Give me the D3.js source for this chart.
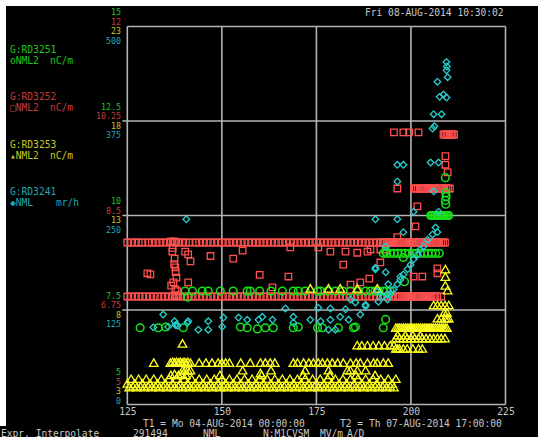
<!DOCTYPE html>
<html>
<head>
<meta charset="utf-8">
<script src="https://cdn.jsdelivr.net/npm/d3@7"></script>
<style>
  body { margin: 0; background: #fff; }
  svg text { font-family: "DejaVu Sans Mono", monospace; font-size: 9.6px; }
  svg text.tk { font-size: 8.3px; }
</style>
</head>
<body>
<script>
// x axis (sample index)
var xTicks = [125, 150, 175, 200, 225];

// left axis labels, one scale per signal (bottom -> top)
var greenTicks = [5, 7.5, 10, 12.5, 15];
var redTicks = [5, 6.75, 8.5, 10.25, 12];
var yellowTicks = [3, 8, 13, 18, 23];
var cyanTicks = [0, 125, 250, 375, 500];

// G:RD3252  [x, nC/m]
var redPts = [
  [125,8],[126,8],[127,8],[128,8],[129,8],[130.5,8],[131.5,8],[132.5,8],[133.5,8],[134.5,8],[135.5,8],[136.5,8.02],[137,8],[137.5,8.02],[138,8],[138.5,8],[139.5,8],[140.5,8],[141.5,8],[143,8],[144,8],[145,8],[146,8],[147,8],[148,8],[149,8],[150,8],[151,8],[152,8],[153,8],[154,8],[155,8],[156,8],[157,8],[158,8],[159,8],[160,8],[161,8],[162,8],[163,8],[164,8],[165,8],[166,8],[167,8],[168,8],[169,8],[170,8],[171,8],[172,8],[173,8],[174,8],[175,8],[176,8],[177,8],[178,8],[179,8],[180,8],[181,8],[182,8],[183,8],[184,8],[185,8],[186,8],[187,8],[188,8],[189,8],[190,8],[191,8],[192,8],[192.5,8],[193,8],[193.5,8],[194,8],[194.5,8],[195,8],[195.5,8],[196,8],[196.5,8],[197,8],[197.5,8],[198,8],[198.5,8],[199,8],[199.5,8],[200,8],[200.5,8],[201,8],[201.5,8],[202,8],[202.5,8],[203,8],[203.5,8],[204,8],[204.5,8],[205,8],[205.5,8],[206,8],[206.5,8],[207,8],[207.5,8],[208,8],[208.5,8],[209,8],
  [125,7],[126,7],[127,7],[128,7],[129,7],[130,7],[131,7],[132,7],[133,7],[134,7],[135,7],[136,7],[137,7],[137.5,7.02],[138,7],[138.5,7.02],[139,7],[140,7],[141,7],[142,7],[143,7],[144,7],[145,7],[146,7],[147,7],[148,7],[149,7],[150,7],[151,7],[152,7],[153,7],[154,7],[155,7],[156,7],[157,7],[158,7],[159,7],[160,7],[161,7],[162,7],[163,7],[164,7],[165,7],[166,7],[167,7],[168,7],[169,7],[170,7],[171,7],[172,7],[173,7],[174,7],[175,7],[176,7],[177,7],[178,7],[179,7],[180,7],[181,7],[182,7],[183,7],[184,7],[185,7],[186,7],[187,7],[188,7],[189,7],[190,7],[191,7],[192,7],[193,7],[194,7],[195,7],[196,7],[196.5,7],[197,7],[197.5,7],[198,7],[198.5,7],[199,7],[199.5,7],[200,7],[200.5,7],[201,7],[201.5,7],[202,7],[202.5,7],[203,7],[203.5,7],[204,7],[204.5,7],[205,7],[205.5,7],[206,7],[206.5,7],[207,7],[208,7],
  [136.9,7.83],[140.3,7.83],[141.1,7.78],[137.7,7.54],[141.7,7.65],[131.1,7.41],[137.2,7.26],[141.1,7.26],[137.7,7.13],[137,7.9],[137.5,7.7],[137.8,7.45],[138,7.35],[137.4,7.6],[136.6,7.2],[138.2,7.1],
  [130.3,7.43],[147,7.75],[153,7.7],[155.5,7.85],[160,7.4],[168.1,7.91],[178.7,7.83],[182.7,7.83],[185.8,7.81],[188.5,7.83],[175.5,7.91],[167.6,7.37],[163.4,7.17],[182.1,7.59],[191.9,7.63],[193.3,7.87],[184,7.22],[186.6,7.26],[189.3,7.87],[191.9,7.87],[189,7.33],
  [195.5,10.04],[198,10.04],[199.5,10.04],[202,10.04],[209.1,9.6],[209.1,9.44],[209.7,9.3],[196.4,9.0],[201.7,8.67],[201.2,8.3],[196.4,8.1],[207,7.52],[207,7.43],[200.7,7.37],[203,7.37],
  [200.8,9],[201.3,9],[201.8,9],[202.3,9],[202.8,9],[203.3,9],[203.8,9],[204.3,9],[204.8,9],[205.3,9],[205.8,9],[206.3,9],[206.8,9],[207.3,9],[207.8,9],[208.3,9],[208.8,9],[209.3,9],[209.8,9],[210.3,9],
  [208.6,10],[209,10],[209.4,10],[209.8,10],[210.2,10],[210.6,10],[211,10],[211.4,10]
];

// G:RD3251  [x, nC/m]
var greenPts = [
  [140.3,8],[142.2,8],[144.8,8],[146.4,8],[149.6,8],[153,8],[156.7,8],[157.5,8],[160,8],[163,8],[166,8],[168.9,8],[170.2,8],[172,8],[175.3,8],[176.1,8],[178,8],[180,8],[182,8],[184,8],[186.1,8],[188,8],[189.3,8],[190.5,8],[191.4,8],[192.7,8],[193.5,8],[194.5,8],
  [128.4,7.03],[133.2,7.03],[135.1,7.05],[139.8,7.03],[154.9,7.05],[156.7,7.03],[159.4,7],[161.5,7.03],[163.6,7.03],[168.9,7.03],[170.2,7.05],[175.3,7.03],[176.6,7.03],[180.8,7.03],[184.8,7.03],[185.3,7.05],[192.7,7.03],
  [141,7.84],[193.3,9.05],[193.3,7.25],[198,8.89],[198.3,8.25],
  [192.7,9],[193.5,9],[194.5,9],[195.5,9],[196.5,9],[197.5,9],[198.5,9],[199.5,9],[200.5,9],[201.5,9],[202.5,9],[203.5,9],[204.5,9],[205.5,9],[206.5,9],[207.5,9],
  [205.2,10],[205.6,10],[206,10],[206.4,10],[206.8,10],[207.2,10],[207.6,10],[208,10],[208.4,10],[208.8,10],[209.2,10],[209.6,10],[210,10],
  [209.1,11],[209.2,10.6],[209.3,10.5],[209.1,10.4],[209.2,10.3]
];

// G:RD3253  [x, nC/m]
var yellowPts = [
  [125,4.05],[126,4.3],[127,4.05],[128,4.3],[129,4.05],[130,4.3],[131,4.05],[132,4.3],[133,4.05],[134,4.3],[135,4.05],[136,4.3],[137,4.05],[138,4.3],[139,4.05],[140,4.3],[141,4.05],[142,4.3],[143,4.05],[144,4.3],[145,4.05],[146,4.3],[147,4.05],[148,4.3],[149,4.05],[150,4.3],[151,4.05],[152,4.3],[153,4.05],[154,4.3],[155,4.05],[156,4.3],[157,4.05],[158,4.3],[159,4.05],[160,4.3],[161,4.05],[162,4.3],[163,4.05],[164,4.3],[165,4.05],[166,4.3],[167,4.05],[168,4.3],[169,4.05],[170,4.3],[171,4.05],[172,4.3],[173,4.05],[174,4.3],[175,4.05],[176,4.3],[177,4.05],[178,4.3],[179,4.05],[180,4.3],[181,4.05],[182,4.3],[183,4.05],[184,4.3],[185,4.05],[186,4.3],[187,4.05],[188,4.3],[189,4.05],[190,4.3],[191,4.05],[192,4.3],[193,4.05],[194,4.3],[195,4.05],[196,4.3],
  [125.5,3.85],[126.5,3.9],[127.5,3.85],[128.5,3.9],[129.5,3.85],[130.5,3.9],[131.5,3.85],[132.5,3.9],[133.5,3.85],[134.5,3.9],[135.5,3.85],[136.5,3.9],[137.5,3.85],[138.5,3.9],[139.5,3.85],[140.5,3.9],[141.5,3.85],[142.5,3.9],[143.5,3.85],[144.5,3.9],[145.5,3.85],[146.5,3.9],[147.5,3.85],[148.5,3.9],[149.5,3.85],[150.5,3.9],[151.5,3.85],[152.5,3.9],[153.5,3.85],[154.5,3.9],[155.5,3.85],[156.5,3.9],[157.5,3.85],[158.5,3.9],[159.5,3.85],[160.5,3.9],[161.5,3.85],[162.5,3.9],[163.5,3.85],[164.5,3.9],[165.5,3.85],[166.5,3.9],[167.5,3.85],[168.5,3.9],[169.5,3.85],[170.5,3.9],[171.5,3.85],[172.5,3.9],[173.5,3.85],[174.5,3.9],[175.5,3.85],[176.5,3.9],[177.5,3.85],[178.5,3.9],[179.5,3.85],[180.5,3.9],[181.5,3.85],[182.5,3.9],[183.5,3.85],[184.5,3.9],[185.5,3.85],[186.5,3.9],[187.5,3.85],[188.5,3.9],[189.5,3.85],[190.5,3.9],[191.5,3.85],[192.5,3.9],[193.5,3.85],[194.5,3.9],[195.5,3.85],
  [136.5,4.5],[137.5,4.55],[138.5,4.5],[139.5,4.55],[140.5,4.5],[149.5,4.5],[160.5,4.5],[171.5,4.5],[178.5,4.5],[185.5,4.5],[190.5,4.5],
  [132,5.15],[136.4,5.15],[137,5.2],[137.5,5.15],[138,5.2],[138.5,5.15],[139,5.2],[139.5,5.15],[140,5.2],[140.5,5.15],[141,5.2],[141.7,5.15],[144,5.15],[145.8,5.15],[147.4,5.15],[149,5.15],[150,5.15],[151,5.15],[152,5.15],[155,5.15],[157.5,5.15],[160.2,5.15],[161.5,5.15],[162.8,5.15],[164,5.15],[168.9,5.15],[170,5.15],[171.6,5.15],[173,5.15],[174.2,5.15],[175.5,5.15],[176.6,5.15],[177.9,5.15],[179.2,5.15],[180.6,5.15],[182.1,5.15],[184,5.15],[185.5,5.15],[186.6,5.15],[188.5,5.15],[190.1,5.15],[191.1,5.15],[192.7,5.15],[194,5.15],
  [139.6,4.75],[140.3,4.75],[141,4.75],[141.7,4.75],[155.5,4.75],[163,4.75],[172,4.75],[178.2,4.75],[183.2,4.75],[184,4.75],[185.8,4.75],[188,4.75],[160.2,4.6],
  [139.6,6.17],[185.8,6.07],[187,6.07],[188.5,6.07],[190,6.07],[191.5,6.07],[193,6.07],[194.5,6.07],[195.5,6.07],
  [173.4,9.08],[178.2,9.08],[181.3,9.08],[185.8,9.08],[191.1,9.08],
  [196,7],[196.5,7],[197,7],[197.5,7],[198,7],[198.5,7],[199,7],[199.5,7],[200,7],[200.5,7],[201,7],[201.5,7],[202,7],[202.5,7],[203,7],[203.5,7],[204,7],[204.5,7],[205,7],[205.5,7],[206,7],[206.5,7],[207,7],[207.5,7],[208,7],[208.5,7],[209,7],[209.5,7],
  [196,6.45],[196.5,6.6],[197,6.45],[198,6.45],[198.5,6.6],[199,6.45],[200,6.45],[200.5,6.6],[201,6.45],[202,6.45],[202.5,6.6],[203,6.45],[204,6.45],[205,6.45],[206,6.45],[207,6.45],[208,6.45],[209,6.45],
  [196,5.9],[196.5,5.9],[197,5.9],[198,5.9],[199,5.9],[200.5,5.9],[202,5.9],[203,5.9],
  [207,7.5],[208,7.5],[209,7.5],[209.5,7.5],[210,7.5],[208.8,7.8],[209.5,7.8],
  [206,8.2],[207,8.2],[208,8.2],[209,8.2],[210,8.2],
  [209.7,8.98],[209.1,9.24],[209.1,9.7],[209.1,10.1]
];

// G:RD3241  [x, mr/h]
var cyanPts = [
  [134.5,119],[131.9,102],[135.8,103],[137.7,105],[138,106],[138.3,104],[137.5,110],[140.9,108],[141.1,110],[143.8,99],[146.4,110],[146.4,99],[150.4,115],[150.1,103],[154.4,115],[156.7,112],[159.7,112],[140.6,245],
  [190.6,179],[193.3,175],[194,159],[193.8,146],[166.8,127],[160.7,116],[163.4,112],[168.9,116],[168.9,108],[173.4,112],[175.5,128],[176.1,110],[178.7,127],[178.7,112],[181.3,116],[182.7,126],[183.5,112],[185.3,135],[186.6,119],[188,130],[191.4,136],[192.5,143],[184,139],[178.2,99],[180,99],
  [196.4,317],[198,317],[196.4,295],[206,282],[200.7,255],[190.6,245],[196.4,245],[207.3,255],[206.5,234],[207,228],[205.7,225],[198,228],[204.4,218],[203.3,209],[202.5,205],[201.7,198],[200.7,192],[199.9,185],[199.1,179],[198,172],[197.2,165],[196.4,159],[195.4,152],[194.6,146],[193.8,139],[193.3,209],[190.6,181],[197.2,169],[191.1,149],[188,132],
  [209.4,453],[209.5,447],[209.4,442],[209.7,433],[207,427],[207.6,407],[208.6,410],[209.4,406],[206,384],[208.1,384],[205.7,365],[206.2,368],[205.2,320],[207.3,320]
];

(function() {
  var W = 545, H = 437;
  var svg = d3.select("body").append("svg").attr("width", W).attr("height", H);

  svg.append("rect").attr("x", 6).attr("y", 6).attr("width", 532).attr("height", H - 6).attr("fill", "#000");
  svg.append("rect").attr("x", 0).attr("y", 426).attr("width", 10).attr("height", 11).attr("fill", "#000");

  var yTop = 26.5, yBot = 404.5, xL = 127.3, xR = 505.5;
  var x = d3.scaleLinear().domain([125, 225]).range([xL, xR]);

  function yScale(ticks) {
    return d3.scaleLinear().domain([ticks[0], ticks[ticks.length - 1]]).range([yBot, yTop]);
  }
  var yGreen = yScale(greenTicks), yRed = yScale(redTicks),
      yYellow = yScale(yellowTicks), yCyan = yScale(cyanTicks);

  var gridCol = "#b4b4b4", textCol = "#c8c8c8";

  // grid + frame (horizontal lines stick out a little to the left)
  var grid = svg.append("g").attr("stroke", gridCol).attr("stroke-width", 1.6);
  grid.selectAll(".vx").data(xTicks).enter().append("line")
    .attr("x1", function(d) { return x(d); }).attr("x2", function(d) { return x(d); })
    .attr("y1", yTop).attr("y2", yBot);
  grid.selectAll(".hy").data(greenTicks).enter().append("line")
    .attr("x1", function(d, i) { return (i === 0 || i === 4) ? xL : xL - 5; }).attr("x2", xR)
    .attr("y1", function(d) { return yGreen(d); }).attr("y2", function(d) { return yGreen(d); });

  // x axis labels
  var xAxis = d3.axisBottom(x).tickValues(xTicks).tickSize(0).tickPadding(4);
  var gx = svg.append("g").attr("transform", "translate(0," + yBot + ")").call(xAxis);
  gx.select(".domain").remove();
  gx.selectAll("text").attr("fill", textCol).attr("dy", "0.71em");

  // stacked left labels
  var sigs = [
    { ticks: greenTicks, col: "#1ec81e" },
    { ticks: redTicks, col: "#c83a3a" },
    { ticks: yellowTicks, col: "#c8c81e" },
    { ticks: cyanTicks, col: "#1ea8b4" }
  ];
  var offs = [-14.4, -4.8, 4.6, 14];
  sigs.forEach(function(s, k) {
    svg.append("g").selectAll("text").data(s.ticks).enter().append("text")
      .attr("class", "tk")
      .attr("x", 121).attr("text-anchor", "end").attr("fill", s.col)
      .attr("y", function(d, i) {
        var gy = yGreen(greenTicks[i]);
        return (i === 0 ? gy - 18 : gy) + offs[k] + 3;
      })
      .text(function(d) { return d; });
  });

  // legend blocks
  var legend = [
    { y: 53, name: "G:RD3251", line: "oNML2", unit: "nC/m", ux: 50, col: "#1ec81e" },
    { y: 100, name: "G:RD3252", line: "\u25A1NML2", unit: "nC/m", ux: 50, col: "#c83a3a" },
    { y: 148, name: "G:RD3253", line: "\u25B4NML2", unit: "nC/m", ux: 50, col: "#c8c81e" },
    { y: 195, name: "G:RD3241", line: "\u25C6NML", unit: "mr/h", ux: 56, col: "#1ea8b4" }
  ];
  legend.forEach(function(l) {
    var g = svg.append("g").attr("fill", l.col);
    g.append("text").attr("x", 10).attr("y", l.y).text(l.name);
    g.append("text").attr("x", 10).attr("y", l.y + 10.5).text(l.line);
    g.append("text").attr("x", l.ux).attr("y", l.y + 10.5).text(l.unit);
  });

  // header / footer text
  function txt(xp, yp, s) {
    svg.append("text").attr("x", xp).attr("y", yp).attr("fill", textCol).text(s);
  }
  txt(365, 15.5, "Fri 08-AUG-2014 10:30:02");
  txt(143, 427, "T1 = Mo 04-AUG-2014 00:00:00");
  txt(340, 427, "T2 = Th 07-AUG-2014 17:00:00");
  txt(1, 436.5, "Expr. Interpolate");
  txt(133, 436.5, "291494");
  txt(203, 436.5, "NML");
  txt(263, 436.5, "N:M1CVSM");
  txt(320, 436.5, "MV/m");
  txt(347, 436.5, "A/D");

  // data marks
  var plot = svg.append("g").attr("fill", "none").attr("stroke-width", 1.3);

  plot.append("g").attr("stroke", "#ff5050").selectAll("path").data(redPts).enter().append("path")
    .attr("d", d3.symbol().type(d3.symbolSquare).size(42))
    .attr("transform", function(d) { return "translate(" + x(d[0]) + "," + yRed(d[1]) + ")"; });

  plot.append("g").attr("stroke", "#18e018").attr("stroke-width", 1.5).selectAll("path").data(greenPts).enter().append("path")
    .attr("d", d3.symbol().type(d3.symbolCircle).size(46))
    .attr("transform", function(d) { return "translate(" + x(d[0]) + "," + yGreen(d[1]) + ")"; });

  plot.append("g").attr("stroke", "#ffff1e").selectAll("path").data(yellowPts).enter().append("path")
    .attr("d", d3.symbol().type(d3.symbolTriangle).size(32))
    .attr("transform", function(d) { return "translate(" + x(d[0]) + "," + yYellow(d[1]) + ")"; });

  plot.append("g").attr("stroke", "#28cccc").selectAll("path").data(cyanPts).enter().append("path")
    .attr("d", d3.symbol().type(d3.symbolSquare).size(22))
    .attr("transform", function(d) { return "translate(" + x(d[0]) + "," + yCyan(d[1]) + ") rotate(45)"; });
})();
</script>
</body>
</html>
